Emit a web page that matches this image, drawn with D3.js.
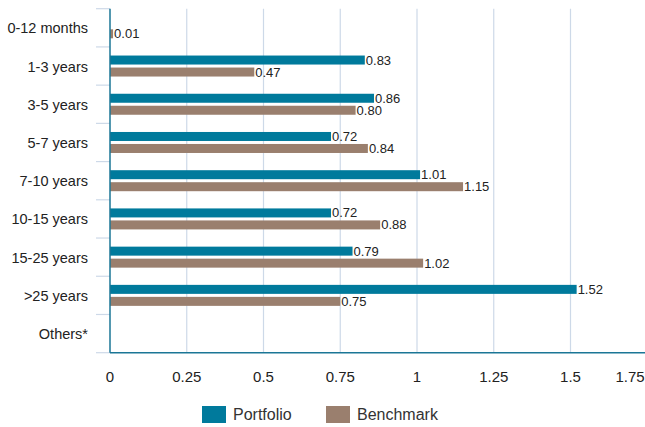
<!DOCTYPE html>
<html>
<head>
<meta charset="utf-8">
<script src="https://cdn.jsdelivr.net/npm/d3@7"></script>
<style>
  body { margin: 0; background: #fff; }
  svg { font-family: "Liberation Sans", Arial, sans-serif; }
</style>
</head>
<body>
<div id="chart"></div>
<script>
// chart data
var categories = ["0-12 months", "1-3 years", "3-5 years", "5-7 years", "7-10 years",
                  "10-15 years", "15-25 years", ">25 years", "Others*"];
var portfolio = [null, 0.83, 0.86, 0.72, 1.01, 0.72, 0.79, 1.52, null];
var benchmark = [0.01, 0.47, 0.80, 0.84, 1.15, 0.88, 1.02, 0.75, null];
var xTicks = [0, 0.25, 0.5, 0.75, 1, 1.25, 1.5, 1.75];
var seriesNames = ["Portfolio", "Benchmark"];
var seriesColors = ["#007a9c", "#9a7f6e"];

var W = 645, H = 427;
var plotLeft = 110, plotTop = 8.7, plotBottom = 352.7;

var svg = d3.select("#chart").append("svg")
	.attr("width", W)
	.attr("height", H);

var x = d3.scaleLinear().domain([0, 1.5]).range([plotLeft, 570.5]);
var y = d3.scaleBand().domain(categories).range([plotTop, plotBottom]);

// vertical grid lines
svg.selectAll(".grid").data(xTicks.filter(function(d) { return d > 0; }))
	.enter().append("line")
	.attr("x1", function(d) { return x(d); })
	.attr("x2", function(d) { return x(d); })
	.attr("y1", plotTop)
	.attr("y2", plotBottom)
	.attr("stroke", "#cdd9e8")
	.attr("stroke-width", 1.2);

// category separators on the left
svg.selectAll(".sep").data(categories)
	.enter().append("line")
	.attr("x1", 96).attr("x2", plotLeft)
	.attr("y1", function(d) { return y(d) + y.bandwidth(); })
	.attr("y2", function(d) { return y(d) + y.bandwidth(); })
	.attr("stroke", "#cdd9e8")
	.attr("stroke-width", 1.2);
svg.append("line")
	.attr("x1", 96).attr("x2", plotLeft)
	.attr("y1", plotTop).attr("y2", plotTop)
	.attr("stroke", "#cdd9e8").attr("stroke-width", 1.2);

// bars
var barH = 9, gap = 3;
var series = [portfolio, benchmark];
series.forEach(function(vals, si) {
	var g = svg.append("g");
	var rows = categories.map(function(c, i) { return {c: c, v: vals[i]}; })
		.filter(function(d) { return d.v != null; });
	g.selectAll("rect").data(rows).enter().append("rect")
		.attr("x", x(0))
		.attr("y", function(d) {
			var mid = y(d.c) + y.bandwidth() / 2;
			return si == 0 ? mid - gap / 2 - barH : mid + gap / 2;
		})
		.attr("width", function(d) { return Math.max(x(d.v) - x(0), 2); })
		.attr("height", barH)
		.attr("fill", seriesColors[si]);
	g.selectAll("text").data(rows).enter().append("text")
		.attr("x", function(d) { return Math.max(x(d.v), x(0) + 2) + 1; })
		.attr("y", function(d) {
			var mid = y(d.c) + y.bandwidth() / 2;
			return (si == 0 ? mid - gap / 2 - barH / 2 : mid + gap / 2 + barH / 2) + 4.5;
		})
		.attr("font-size", 13)
		.attr("fill", "#222")
		.text(function(d) { return d.v.toFixed(2); });
});

// axis lines
svg.append("line")
	.attr("x1", plotLeft).attr("x2", plotLeft)
	.attr("y1", plotTop).attr("y2", plotBottom)
	.attr("stroke", "#1b7696").attr("stroke-width", 1.5);
svg.append("line")
	.attr("x1", plotLeft).attr("x2", W)
	.attr("y1", plotBottom).attr("y2", plotBottom)
	.attr("stroke", "#1b7696").attr("stroke-width", 1.5);

// category labels
svg.selectAll(".cat").data(categories)
	.enter().append("text")
	.attr("x", 88)
	.attr("y", function(d) { return y(d) + y.bandwidth() / 2 + 5.5; })
	.attr("text-anchor", "end")
	.attr("font-size", 14.5)
	.attr("fill", "#222")
	.text(function(d) { return d; });

// x tick labels
svg.selectAll(".xt").data(xTicks)
	.enter().append("text")
	.attr("x", function(d) { return Math.min(x(d), W - 15); })
	.attr("y", 382)
	.attr("text-anchor", "middle")
	.attr("font-size", 15)
	.attr("fill", "#222")
	.text(function(d) { return d; });

// legend
var legX = [202, 326];
seriesNames.forEach(function(n, i) {
	svg.append("rect")
		.attr("x", legX[i]).attr("y", 406)
		.attr("width", 24).attr("height", 17)
		.attr("fill", seriesColors[i]);
	svg.append("text")
		.attr("x", legX[i] + 31).attr("y", 420)
		.attr("font-size", 16)
		.attr("fill", "#333")
		.text(n);
});
</script>
</body>
</html>
